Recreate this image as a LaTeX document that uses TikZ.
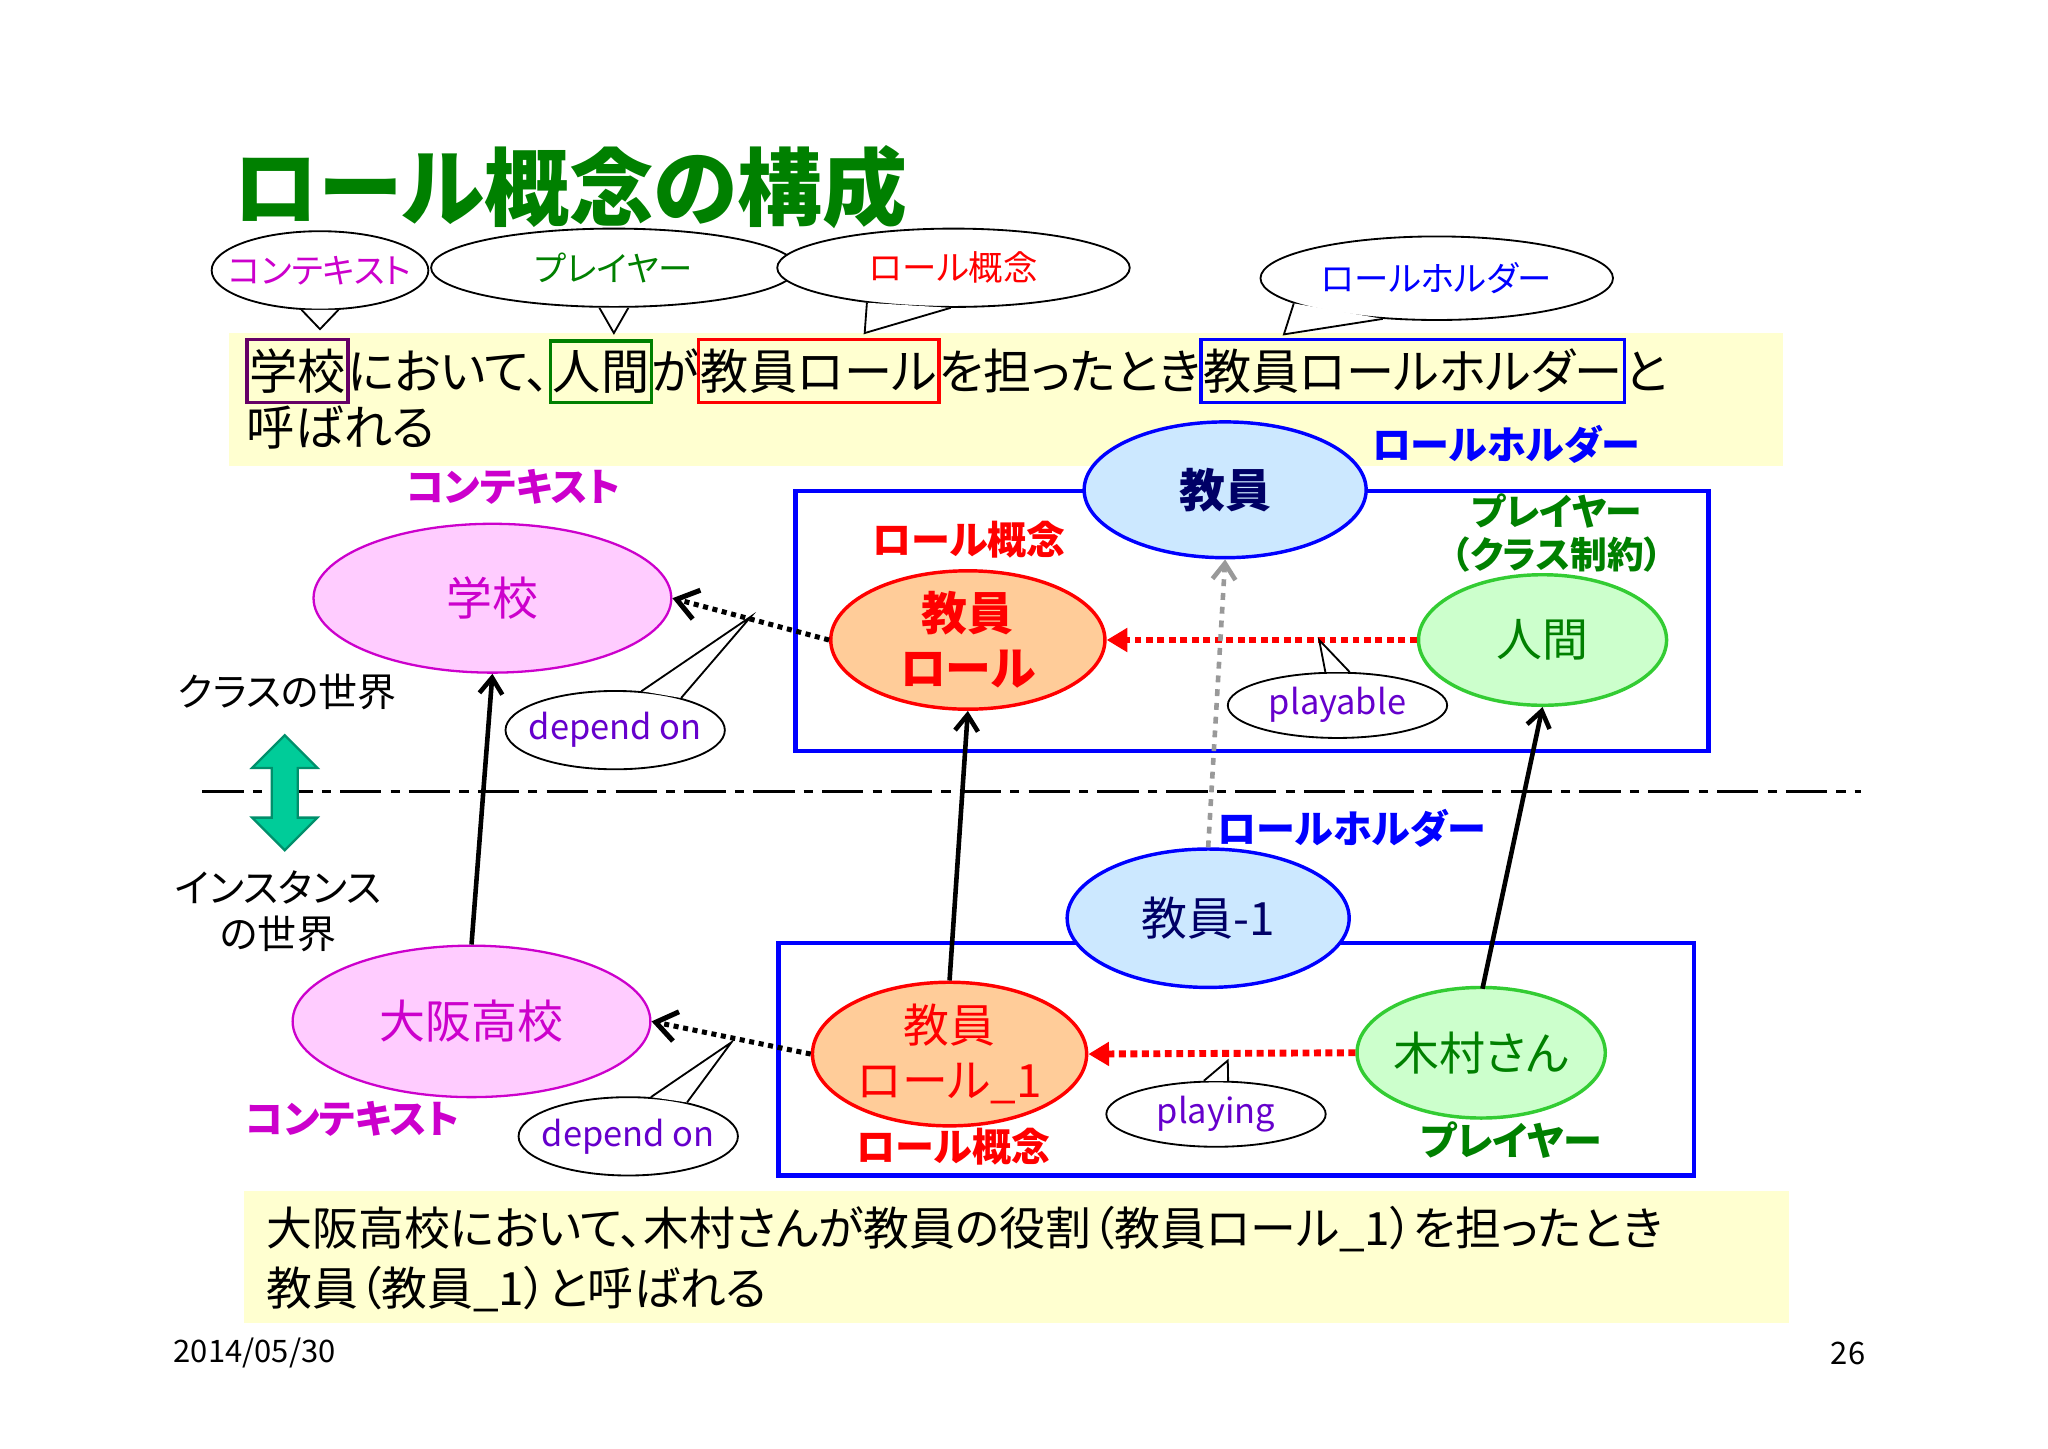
\documentclass[tikz,border=0pt]{standalone}
\usepackage{fontspec}
\setmainfont{Noto Sans CJK JP}[RawFeature=+palt]
\usetikzlibrary{shapes.geometric,arrows.meta}
\definecolor{tgreen}{RGB}{0,128,0}
\definecolor{mag}{RGB}{204,0,204}
\definecolor{vio}{RGB}{102,0,204}
\definecolor{ylw}{RGB}{255,255,208}
\definecolor{lblue}{RGB}{204,232,255}
\definecolor{lorange}{RGB}{255,204,153}
\definecolor{lgreen}{RGB}{204,255,204}
\definecolor{ggreen}{RGB}{51,204,51}
\definecolor{lmag}{RGB}{255,204,255}
\definecolor{teal2}{RGB}{0,204,153}
\begin{document}
\begin{tikzpicture}[x=0.02cm,y=-0.02cm,
  E/.style 2 args={ellipse,inner sep=0pt,minimum width=#1*0.04cm,minimum height=#2*0.04cm},
  call/.style={draw=black,fill=white,line width=0.8pt},
  big/.style={font=\fontsize{20pt}{26pt}\selectfont,align=center},
  lab/.style={font=\fontsize{17pt}{20pt}\selectfont\bfseries},
  ctext/.style={font=\fontsize{15pt}{18pt}\selectfont},
  seg/.style={font=\fontsize{21pt}{26pt}\selectfont,inner xsep=0pt,inner ysep=2pt,outer sep=0pt,anchor=base west},
  bx/.style={seg,draw=#1,line width=1.5pt,inner xsep=1pt,inner ysep=4pt},
  arr/.style={-{Straight Barb[length=7pt,width=10pt]},line width=1.5pt},
  darr/.style={-{Straight Barb[length=9pt,width=13pt]},line width=2.2pt,dotted}]
\useasboundingbox (0,0) rectangle (1568,1109);
\fill[white] (0,0) rectangle (1568,1109);
% title
\node[anchor=west,text=tgreen,font=\fontsize{37pt}{40pt}\selectfont\bfseries] (title) at (172,143) {ロール概念の構成};
% top yellow box
\fill[ylw] (175,255) rectangle (1365,357);
\node[bx=violet!80!black] (s1) at (189,298) {学校};
\node[seg] (s2) at (s1.base east) {において、};
\node[bx=tgreen] (s3) at (s2.base east) {人間};
\node[seg] (s4) at (s3.base east) {が};
\node[bx=red] (s5) at (s4.base east) {教員ロール};
\node[seg] (s6) at (s5.base east) {を担ったとき};
\node[bx=blue] (s7) at (s6.base east) {教員ロールホルダー};
\node[seg] (s8) at (s7.base east) {と};
\node[seg] (s9) at (189,341) {呼ばれる};
% callouts: name, centre, rx, ry, angle1, angle2, tip, text
\newcommand\callout[8]{%
  \node[E={#3}{#4},call] (#1) at (#2) {};
  \coordinate (#1t) at (#7);
  \fill[white] (#1.#5) -- (#1t) -- (#1.#6) -- cycle;
  \draw[line width=0.8pt] (#1.#5) -- (#1t) -- (#1.#6);
  \node[ctext] at (#1) {#8};}
\callout{c1}{245,207}{83}{30}{245}{295}{245,252}{\textcolor{mag}{コンテキスト}}
\callout{c2}{470,205}{140}{30}{250}{290}{470,255}{\textcolor{tgreen}{プレイヤー}}
\callout{c3}{730,205}{135}{30}{202}{266}{662,255}{\textcolor{red}{ロール概念}}
\callout{c4}{1100,213}{135}{32}{190}{217}{983,256}{\textcolor{blue}{ロールホルダー}}
% upper class world
\draw[blue,line width=2pt] (609,376) rectangle (1308,575);
\node[E={108}{52},draw=blue,fill=lblue,line width=1.5pt,big,text=blue!40!black] (kyoin) at (938,375) {\bfseries 教員};
\node[lab,text=blue] (lh1) at (1153,340) {ロールホルダー};
\node[lab,text=red] (lc1) at (742,413) {ロール概念};
\node[E={105}{53},draw=red,fill=lorange,line width=1.5pt,big,text=red,font=\fontsize{20pt}{24pt}\selectfont\bfseries] (role) at (741,490) {教員\\ロール};
\node[font=\fontsize{16pt}{19pt}\selectfont\bfseries,text=tgreen,align=center] (pl1) at (1192,408) {プレイヤー\\（クラス制約）};
\node[E={95}{50},draw=ggreen,fill=lgreen,line width=1.5pt,big,text=tgreen] (ningen) at (1181,490) {人間};
\node[lab,text=mag] (ct1) at (393,373) {コンテキスト};
\node[E={137}{57},draw=mag,fill=lmag,line width=1pt,big,text=mag] (gakko) at (377,458) {学校};
% lower
\draw[blue,line width=2pt] (596,722) rectangle (1297,900);
\node[lab,text=blue] (lh2) at (1035,634) {ロールホルダー};
\node[E={108}{53},draw=blue,fill=lblue,line width=1.5pt,big,text=blue!40!black] (kyoin1) at (925,703) {教員-1};
\node[E={137}{58},draw=mag,fill=lmag,line width=1pt,big,text=mag] (osaka) at (361,782) {大阪高校};
\node[lab,text=mag] (ct2) at (270,857) {コンテキスト};
\node[E={105}{55},draw=red,fill=lorange,line width=1.5pt,big,text=red,font=\fontsize{20pt}{24pt}\selectfont] (role1) at (727,807) {教員\\ロール\_1};
\node[lab,text=red] (lc2) at (730,878) {ロール概念};
\node[E={95}{50},draw=ggreen,fill=lgreen,line width=1.5pt,big,text=tgreen] (kimura) at (1134,806) {木村さん};
\node[lab,text=tgreen] (pl2) at (1157,873) {プレイヤー};
% connectors
\draw[darr] (role.west) -- (gakko.east);
\draw[darr] (role1.west) -- (osaka.east);
\draw[red,line width=3pt,dotted,-{Triangle[length=9pt,width=10pt]}] (ningen.west) -- (role.east);
\draw[red,line width=3pt,dotted,-{Triangle[length=9pt,width=10pt]}] (kimura.west) -- (role1.east);
\draw[arr,dashed,gray!80,line width=2pt] (kyoin1.north) -- (kyoin.south);
\draw[arr,line width=2pt] (osaka.north) -- (gakko.south);
\draw[arr,line width=2pt] (role1.north) -- (role.south);
\draw[arr,line width=2pt] (1135,757) -- (ningen.south);
% callouts in diagram
\callout{d1}{471,559}{84}{30}{26}{56}{575,472}{\textcolor{vio}{depend on}}
\callout{d2}{481,870}{84}{30}{30}{60}{560,798}{\textcolor{vio}{depend on}}
\callout{p1}{1024,540}{84}{25}{70}{110}{1010,490}{\textcolor{vio}{playable}}
\callout{p2}{931,853}{84}{25}{70}{110}{940,812}{\textcolor{vio}{playing}}
% worlds
\node[font=\fontsize{17pt}{20pt}\selectfont] (cw) at (220,530) {クラスの世界};
\node[font=\fontsize{17pt}{20pt}\selectfont,align=center] (iw) at (213,698) {インスタンス\\の世界};
\draw[line width=1pt,dash pattern=on 18pt off 4pt on 4pt off 4pt] (155,606) -- (1425,606);
\draw[teal2!70!black,fill=teal2,line width=1pt] (218,563) -- (243,588) -- (228,588) -- (228,626) -- (243,626) -- (218,651) -- (193,626) -- (208,626) -- (208,588) -- (193,588) -- cycle;
% bottom box
\fill[ylw] (187,912) rectangle (1370,1013);
\node[anchor=west,font=\fontsize{20pt}{26pt}\selectfont,align=left] (t2) at (198,964) {大阪高校において、木村さんが教員の役割（教員ロール\_1）を担ったとき\\教員（教員\_1）と呼ばれる};
\node[font=\fontsize{13.5pt}{16pt}\selectfont] (date) at (195,1036) {2014/05/30};
\node[font=\fontsize{13.5pt}{16pt}\selectfont] (pg) at (1415,1036) {26};
\end{tikzpicture}
\end{document}
